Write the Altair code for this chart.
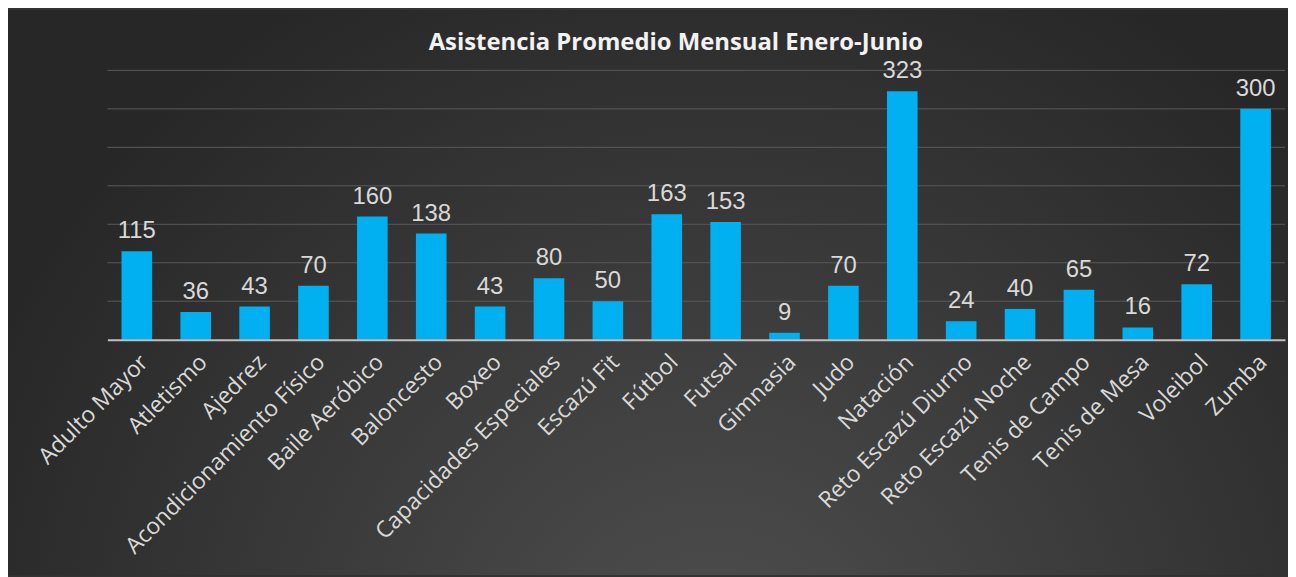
import altair as alt
import pandas as pd

categories = ["Adulto Mayor", "Atletismo", "Ajedrez", "Acondicionamiento Físico",
              "Baile Aeróbico", "Baloncesto", "Boxeo", "Capacidades Especiales",
              "Escazú Fit", "Fútbol", "Futsal", "Gimnasia", "Judo", "Natación",
              "Reto Escazú Diurno", "Reto Escazú Noche", "Tenis de Campo",
              "Tenis de Mesa", "Voleibol", "Zumba"]
values = [115, 36, 43, 70, 160, 138, 43, 80, 50, 163, 153, 9, 70, 323, 24, 40, 65, 16, 72, 300]
grid_values = [50, 100, 150, 200, 250, 300, 350]
title_text = "Asistencia Promedio Mensual Enero-Junio"

df = pd.DataFrame({"Deporte": categories, "Asistencia": values})
grid_df = pd.DataFrame({"v": grid_values})
one = pd.DataFrame({"a": [0]})

W, H = 1185, 271
PL, PT, PR, PB = 100, 61, 3, 237

xenc = alt.X("Deporte:N", sort=categories,
             scale=alt.Scale(paddingInner=0.48, paddingOuter=0.24),
             axis=alt.Axis(title=None, labelAngle=-45, labelFont="Open Sans",
                           labelFontSize=23, labelColor="#d9d9d9", ticks=False,
                           domainColor="#bfbfbf", domainWidth=2, labelPadding=11,
                           labelLimit=0, labelOverlap=False, zindex=1))
yscale = alt.Scale(domain=[0, 350], nice=False)

gradient = {
    "gradient": "radial",
    "x1": 0.55, "y1": 0.8, "r1": 0,
    "x2": 0.55, "y2": 0.8, "r2": 0.62,
    "stops": [
        {"offset": 0, "color": "#4f4f4f"},
        {"offset": 1, "color": "#272727"},
    ],
}

bg = alt.Chart(one).mark_rect(fill=gradient, stroke=None).encode(
    x=alt.value(-PL), x2=alt.value(W + PR),
    y=alt.value(-PT), y2=alt.value(H + PB),
)

grid = alt.Chart(grid_df).mark_rule(color="#5a5a5a", strokeWidth=1).encode(
    y=alt.Y("v:Q", scale=yscale, axis=None),
)

bars = alt.Chart(df).mark_bar(color="#00B0F0").encode(
    x=xenc,
    y=alt.Y("Asistencia:Q", scale=yscale, axis=None),
)

labels = alt.Chart(df).mark_text(
    dy=-13, baseline="alphabetic", fontSize=24, font="Liberation Sans",
    color="#d9d9d9",
).encode(
    x=alt.X("Deporte:N", sort=categories),
    y=alt.Y("Asistencia:Q", scale=yscale),
    text="Asistencia:Q",
)

title = alt.Chart(one).mark_text(
    text=title_text, font="Open Sans", fontSize=24, fontWeight="bold",
    color="#f2f2f2", align="center", baseline="middle",
).encode(x=alt.value(572), y=alt.value(-28))

chart = alt.layer(bg, grid, bars, labels, title).properties(
    width=W, height=H,
    autosize=alt.AutoSizeParams(type="none"),
    padding={"left": PL, "top": PT, "right": PR, "bottom": PB},
    background="#333333",
).configure_view(stroke=None)

chart.save("out.html", embed_options={"renderer": "svg", "actions": False})
